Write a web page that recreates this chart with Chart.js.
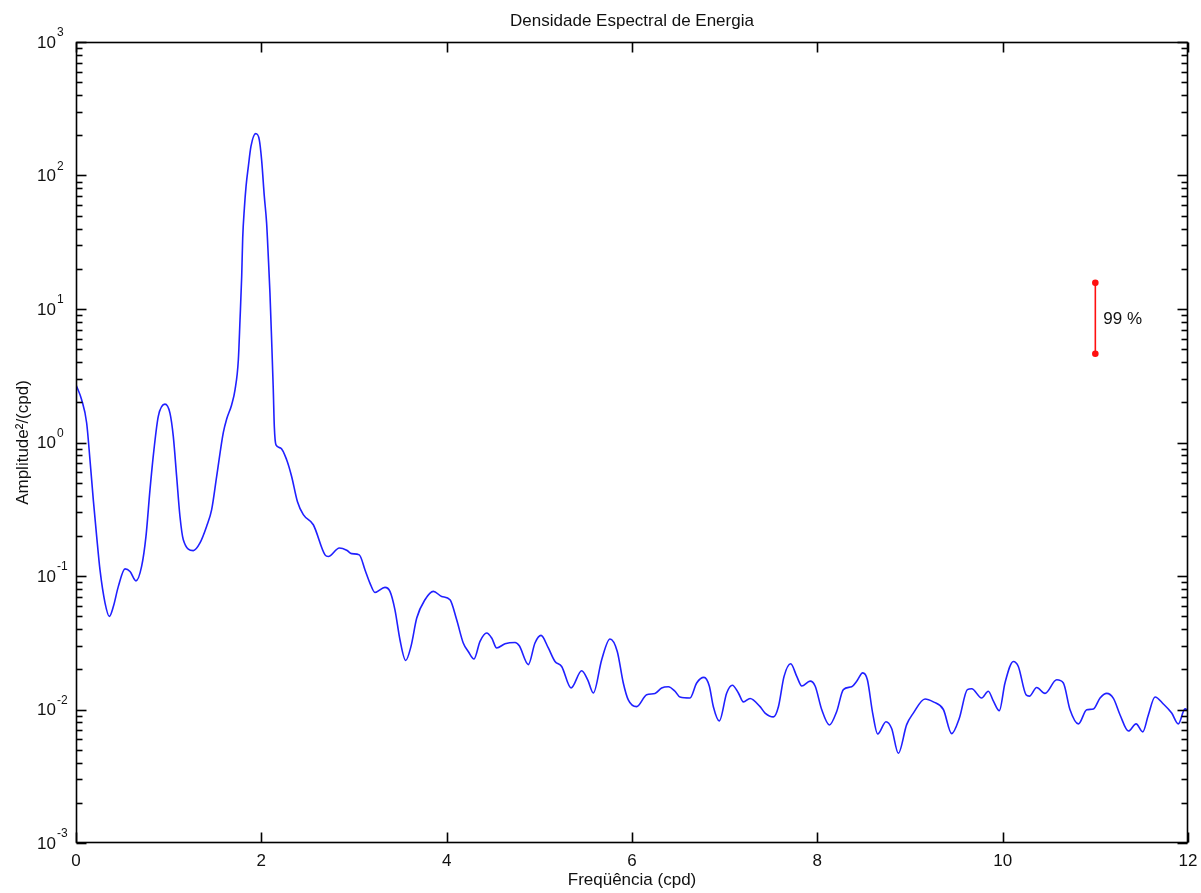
<!DOCTYPE html>
<html>
<head>
<meta charset="utf-8">
<title>Densidade Espectral de Energia</title>
<script src="https://cdn.jsdelivr.net/npm/chart.js@4/dist/chart.umd.min.js"></script>
<style>
  html, body { margin: 0; padding: 0; background: #fff; }
  #wrap { width: 1201px; height: 893px; }
</style>
</head>
<body>
<div id="wrap"><canvas id="psdChart" width="1201" height="893"></canvas></div>
<script>
// frequency (cpd) and energy density
const freq = [
  0.00, 0.06, 0.115, 0.151, 0.187, 0.223, 0.259, 0.313, 0.36, 0.403,
  0.457, 0.529, 0.583, 0.647, 0.708, 0.755, 0.798, 0.841, 0.888, 0.96,
  1.014, 1.05, 1.086, 1.122, 1.158, 1.266, 1.338, 1.41, 1.464, 1.518,
  1.589, 1.626, 1.68, 1.716, 1.752, 1.77, 1.788, 1.799, 1.817, 1.835,
  1.86, 1.888, 1.939, 1.978, 2.003, 2.032, 2.057, 2.075, 2.093, 2.111,
  2.129, 2.14, 2.158, 2.208, 2.273, 2.327, 2.39, 2.453, 2.561, 2.687,
  2.723, 2.842, 2.921, 2.975, 3.057, 3.119, 3.172, 3.226, 3.334, 3.388,
  3.442, 3.496, 3.558, 3.615, 3.677, 3.766, 3.856, 3.946, 4.036, 4.108,
  4.179, 4.233, 4.295, 4.36, 4.432, 4.486, 4.54, 4.63, 4.738, 4.784,
  4.881, 4.953, 5.018, 5.097, 5.169, 5.241, 5.342, 5.457, 5.522, 5.583,
  5.673, 5.762, 5.841, 5.906, 5.96, 6.05, 6.158, 6.248, 6.32, 6.392,
  6.464, 6.518, 6.626, 6.698, 6.777, 6.834, 6.878, 6.942, 7.022, 7.083,
  7.148, 7.202, 7.274, 7.382, 7.436, 7.526, 7.58, 7.641, 7.713, 7.778,
  7.832, 7.922, 7.976, 8.048, 8.13, 8.209, 8.281, 8.371, 8.425, 8.49,
  8.54, 8.597, 8.651, 8.741, 8.802, 8.874, 8.964, 9.036, 9.162, 9.252,
  9.36, 9.45, 9.532, 9.619, 9.666, 9.773, 9.845, 9.899, 9.964, 10.025,
  10.115, 10.169, 10.252, 10.288, 10.367, 10.457, 10.583, 10.655, 10.727, 10.817,
  10.907, 10.979, 11.051, 11.123, 11.195, 11.267, 11.357, 11.44, 11.512, 11.572,
  11.644, 11.734, 11.824, 11.895, 11.968, 12.0
];
const energy = [
  2.71, 2.1, 1.4, 0.74, 0.37, 0.198, 0.111, 0.063, 0.0498, 0.059,
  0.0836, 0.113, 0.108, 0.092, 0.118, 0.198, 0.44, 0.88, 1.57, 1.94,
  1.66, 1.11, 0.557, 0.279, 0.187, 0.155, 0.177, 0.236, 0.314, 0.557,
  1.18, 1.5, 1.92, 2.48, 4.17, 8.3, 17.5, 34, 57, 83,
  117, 165, 206, 185, 131, 70, 44, 24.8, 13.2, 5.89,
  2.48, 1.32, 0.96, 0.91, 0.743, 0.557, 0.36, 0.288, 0.242, 0.144,
  0.140, 0.162, 0.156, 0.147, 0.144, 0.111, 0.0885, 0.0753, 0.0822, 0.0767,
  0.0558, 0.0333, 0.0233, 0.0297, 0.0484, 0.0664, 0.0767, 0.0703, 0.0664, 0.047,
  0.0315, 0.0272, 0.0239, 0.0324, 0.0374, 0.0343, 0.0289, 0.0311, 0.0318, 0.030,
  0.0217, 0.0315, 0.0359, 0.0289, 0.0229, 0.021, 0.0145, 0.0195, 0.0167, 0.0133,
  0.0236, 0.0337, 0.0272, 0.0158, 0.0118, 0.0105, 0.0129, 0.0132, 0.0145, 0.0148,
  0.0137, 0.0124, 0.0122, 0.0158, 0.0174, 0.015, 0.0105, 0.0082, 0.0133, 0.0152,
  0.0133, 0.0114, 0.0121, 0.0105, 0.0094, 0.0088, 0.0105, 0.0177, 0.022, 0.0177,
  0.015, 0.0163, 0.015, 0.00995, 0.00766, 0.00967, 0.0141, 0.0148, 0.0163, 0.0188,
  0.0167, 0.0094, 0.00655, 0.0081, 0.0072, 0.0047, 0.0077, 0.0094, 0.012, 0.0114,
  0.0100, 0.0066, 0.0086, 0.0141, 0.0143, 0.0122, 0.0137, 0.0116, 0.0098, 0.0158,
  0.0229, 0.021, 0.0129, 0.0126, 0.0146, 0.0132, 0.0167, 0.0158, 0.00995, 0.0078,
  0.00995, 0.0101, 0.0122, 0.0132, 0.0121, 0.0091, 0.0069, 0.0078, 0.0068, 0.0091,
  0.0124, 0.0110, 0.0094, 0.0078, 0.0101, 0.0098
];

// 99% confidence bar
const confFreq = [11, 11];
const confBounds = [15.7, 4.62];
const confLabel = "99 %";

const xTicks = [0, 2, 4, 6, 8, 10, 12];
const yExponents = [-3, -2, -1, 0, 1, 2, 3];

const FONT = '"Liberation Sans", Arial, sans-serif';
const TEXT_COLOR = "#111";

const matlabAxes = {
    id: "matlabAxes",
    beforeDraw(chart) {
        const ctx = chart.ctx;
        ctx.save();
        ctx.fillStyle = "#fff";
        ctx.fillRect(0, 0, chart.width, chart.height);
        ctx.restore();
    },
    afterDatasetsDraw(chart) {
        const ctx = chart.ctx;
        const area = chart.chartArea;
        const xs = chart.scales.x;
        const ys = chart.scales.y;
        const L = Math.round(area.left) + 0.5;
        const R = Math.round(area.right) - 0.5;
        const T = Math.round(area.top) + 0.5;
        const B = Math.round(area.bottom) - 0.5;

        ctx.save();
        ctx.strokeStyle = "#000";
        ctx.lineWidth = 1.6;
        ctx.strokeRect(L, T, R - L, B - T);

        const seg = (x1, y1, x2, y2) => {
            ctx.beginPath();
            ctx.moveTo(x1, y1);
            ctx.lineTo(x2, y2);
            ctx.stroke();
        };
        // x ticks, top and bottom, pointing in
        xTicks.forEach(v => {
            const px = Math.round(xs.getPixelForValue(v)) + 0.5;
            seg(px, B, px, B - 10);
            seg(px, T, px, T + 10);
        });
        // y decades and minor ticks, left and right
        yExponents.forEach(e => {
            const py = Math.round(ys.getPixelForValue(Math.pow(10, e))) + 0.5;
            seg(L, py, L + 10, py);
            seg(R, py, R - 10, py);
            if (e < 3) {
                for (let m = 2; m <= 9; m++) {
                    const pm = Math.round(ys.getPixelForValue(m * Math.pow(10, e))) + 0.5;
                    seg(L, pm, L + 6, pm);
                    seg(R, pm, R - 6, pm);
                }
            }
        });

        // y tick labels 10^n
        ctx.fillStyle = TEXT_COLOR;
        yExponents.forEach(e => {
            const py = ys.getPixelForValue(Math.pow(10, e));
            ctx.font = "17px " + FONT;
            ctx.textAlign = "right";
            ctx.textBaseline = "middle";
            ctx.fillText("10", area.left - 20, py + 1);
            ctx.font = "12px " + FONT;
            ctx.textAlign = "left";
            ctx.fillText(String(e), area.left - 19, py - 9);
        });

        // title and axis labels
        ctx.font = "17px " + FONT;
        ctx.textAlign = "center";
        ctx.textBaseline = "middle";
        ctx.fillText("Densidade Espectral de Energia", (area.left + area.right) / 2, 21);
        ctx.fillText("Freqüência (cpd)", (area.left + area.right) / 2, 880);

        ctx.save();
        ctx.translate(23, (area.top + area.bottom) / 2);
        ctx.rotate(-Math.PI / 2);
        ctx.fillText("Amplitude²/(cpd)", 0, 0);
        ctx.restore();

        // label of the confidence bar
        const bx = xs.getPixelForValue(confFreq[0]);
        const by = (ys.getPixelForValue(confBounds[0]) + ys.getPixelForValue(confBounds[1])) / 2;
        ctx.textAlign = "left";
        ctx.fillText(confLabel, bx + 8, by + 1);
        ctx.restore();
    }
};

const ctx = document.getElementById("psdChart").getContext("2d");
new Chart(ctx, {
    type: "line",
    data: {
        datasets: [
            {
                label: "Densidade",
                data: freq.map((f, i) => ({ x: f, y: energy[i] })),
                borderColor: "#2020ff",
                borderWidth: 1.6,
                pointRadius: 0,
                fill: false,
                cubicInterpolationMode: "monotone"
            },
            {
                label: confLabel,
                data: confFreq.map((f, i) => ({ x: f, y: confBounds[i] })),
                borderColor: "#ff1010",
                borderWidth: 1.6,
                pointRadius: 2.5,
                pointBackgroundColor: "#ff1010",
                pointBorderColor: "#ff1010",
                fill: false
            }
        ]
    },
    options: {
        responsive: false,
        animation: false,
        events: [],
        layout: { padding: { top: 42, right: 13, left: 0, bottom: 0 } },
        scales: {
            x: {
                type: "linear",
                min: 0,
                max: 12,
                afterFit: s => { s.height = 50; s.paddingLeft = 0; s.paddingRight = 0; },
                afterBuildTicks: s => { s.ticks = xTicks.map(v => ({ value: v })); },
                grid: { display: false },
                border: { display: false },
                ticks: {
                    padding: 0,
                    color: TEXT_COLOR,
                    maxRotation: 0,
                    font: { family: FONT, size: 17 }
                }
            },
            y: {
                type: "logarithmic",
                min: 1e-3,
                max: 1e3,
                afterFit: s => { s.width = 76; s.paddingTop = 0; s.paddingBottom = 0; },
                grid: { display: false },
                border: { display: false },
                ticks: { display: false }
            }
        },
        plugins: {
            legend: { display: false },
            title: { display: false },
            tooltip: { enabled: false }
        }
    },
    plugins: [matlabAxes]
});
</script>
</body>
</html>
